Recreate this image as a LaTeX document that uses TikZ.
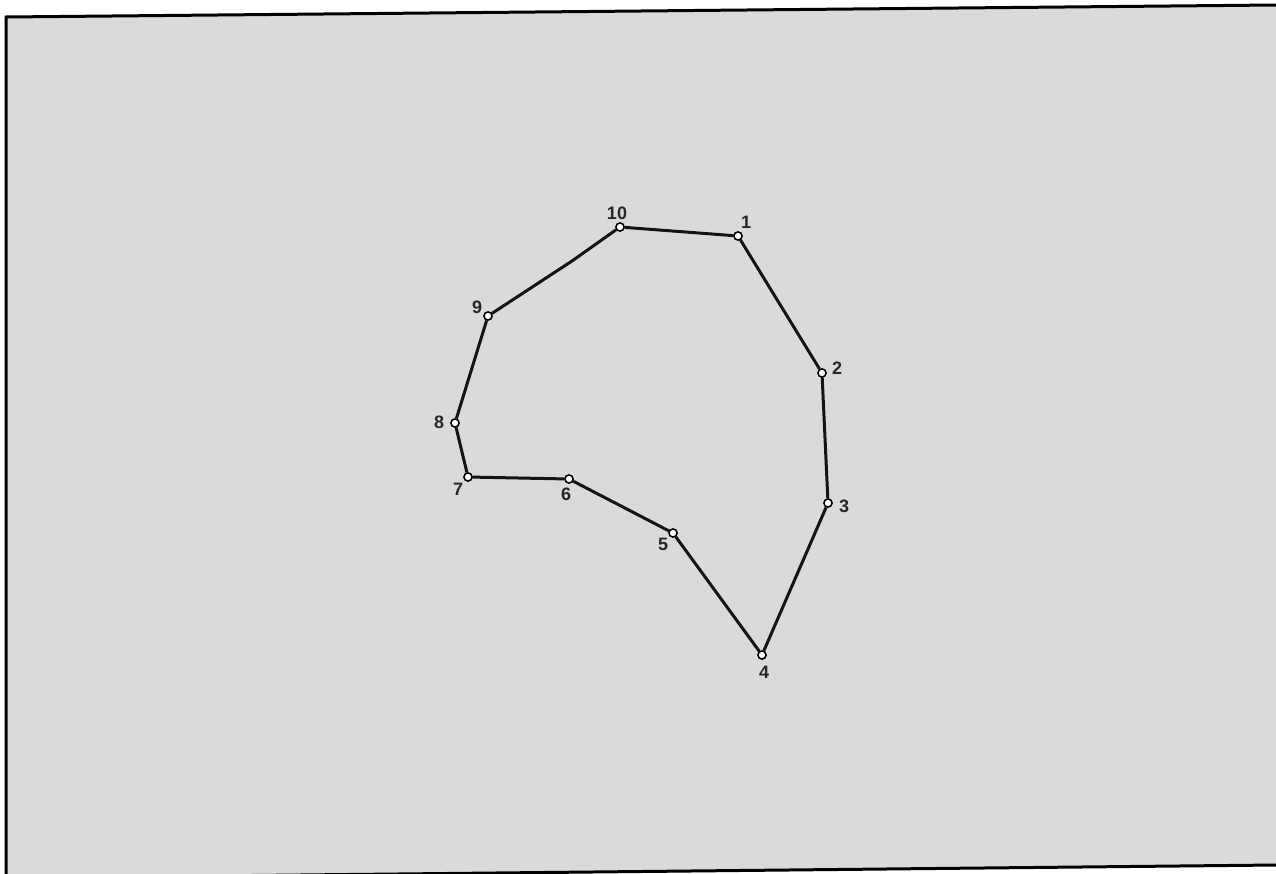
\documentclass[tikz,border=0pt]{standalone}
\usepackage{fontspec}
\setmainfont{Liberation Sans}
\definecolor{paper}{RGB}{216,218,219}
\begin{document}
\begin{tikzpicture}[x=1pt,y=-1pt,
  vtx/.style={circle,draw=black,fill=white,line width=1.4pt,inner sep=0pt,minimum size=8pt},
  lbl/.style={font=\fontsize{18}{18}\selectfont\bfseries,inner sep=0pt,text=black!85},
  edge/.style={line width=3pt,black!92,line join=round}]
\useasboundingbox[fill=white] (0,0) rectangle (1276,873);
% paper and frame
\fill[paper] (6,17) -- (1276,5) -- (1276,865) -- (6,878) -- cycle;
\draw[line width=3pt,black] (1276,5) -- (6,17) -- (6,878);
\draw[line width=3pt,black] (6,878) -- (1276,865);
% vertices
\node[vtx] (v1) at (738,236) {};
\node[vtx] (v2) at (822,373) {};
\node[vtx] (v3) at (828,503) {};
\node[vtx] (v4) at (762,655) {};
\node[vtx] (v5) at (673,533) {};
\node[vtx] (v6) at (569,479) {};
\node[vtx] (v7) at (468,477) {};
\node[vtx] (v8) at (455,423) {};
\node[vtx] (v9) at (488,316) {};
\node[vtx] (v10) at (620,227) {};
\coordinate (k) at (572,261);
% edges
\draw[edge] (v1) -- (v2);
\draw[edge] (v2) -- (v3);
\draw[edge] (v3) -- (v4);
\draw[edge] (v4) -- (v5);
\draw[edge] (v5) -- (v6);
\draw[edge] (v6) -- (v7);
\draw[edge] (v7) -- (v8);
\draw[edge] (v8) -- (v9);
\draw[edge] (v9) -- (k) -- (v10);
\draw[edge] (v10) -- (v1);
% redraw vertex rings on top of line ends
\foreach \v in {v1,v2,v3,v4,v5,v6,v7,v8,v9,v10}{
  \draw[line width=1.4pt,fill=white] (\v.center) circle (4pt);
}
% labels
\node[lbl] (l1) at (746,222) {1};
\node[lbl] (l2) at (837,368) {2};
\node[lbl] (l3) at (844,506) {3};
\node[lbl] (l4) at (764,672) {4};
\node[lbl] (l5) at (663,544) {5};
\node[lbl] (l6) at (566,494) {6};
\node[lbl] (l7) at (458,489) {7};
\node[lbl] (l8) at (439,422) {8};
\node[lbl] (l9) at (477,307) {9};
\node[lbl] (l10) at (617,213) {10};
\end{tikzpicture}
\end{document}
